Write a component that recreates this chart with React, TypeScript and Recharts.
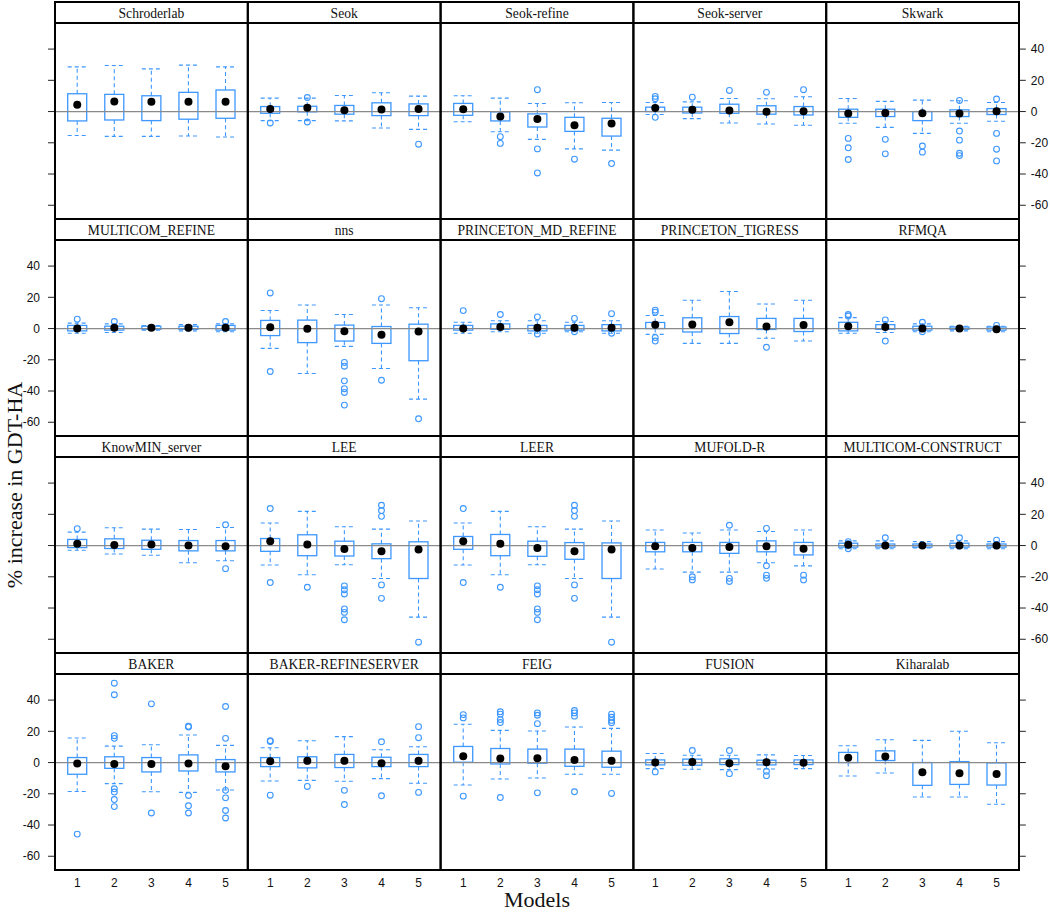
import React from 'react';
import { ComposedChart, Bar, Scatter, XAxis, YAxis, ReferenceLine } from 'recharts';

const panelNames = [
  'Schroderlab', 'Seok', 'Seok-refine', 'Seok-server', 'Skwark',
  'MULTICOM_REFINE', 'nns', 'PRINCETON_MD_REFINE', 'PRINCETON_TIGRESS', 'RFMQA',
  'KnowMIN_server', 'LEE', 'LEER', 'MUFOLD-R', 'MULTICOM-CONSTRUCT',
  'BAKER', 'BAKER-REFINESERVER', 'FEIG', 'FUSION', 'Kiharalab',
];

const models = [1, 2, 3, 4, 5];
const yTicks = [-60, -40, -20, 0, 20, 40];

const medians = [
  [4.3, 6.5, 6.2, 6.2, 6.2],
  [1.7, 2.4, 0.9, 1.3, 1.7],
  [1.5, -3.2, -4.7, -8.8, -7.7],
  [2.2, 1.1, 0.6, -0.2, 0.2],
  [-1.3, -0.9, -1.1, -1.3, 0.2],
  [0, 0.5, 0.5, 0.5, 0.5],
  [0.9, -0.2, -1.7, -3.9, -1.9],
  [0, 1, 0.5, 0.5, 0.5],
  [2.4, 2.6, 4.1, 1.3, 2.2],
  [1.5, 1, 0, 0, -0.5],
  [1.1, 0.4, 0.6, 0, -0.4],
  [2.8, 0.6, -2.2, -3.7, -2.6],
  [2.8, 1.1, -1.5, -3.7, -2.6],
  [-0.5, -1.5, -1, -0.5, -2],
  [0.5, 0, 0, 0, 0],
  [-0.6, -0.9, -0.9, -0.6, -2.4],
  [0.9, 1.1, 1.1, -0.4, 1.1],
  [4.1, 2.6, 2.8, 1.7, 1.1],
  [0, 0.4, -0.4, 0.2, -0.2],
  [3.0, 3.9, -6.2, -6.9, -7.3],
];

const lowerQuartiles = [
  [-6.0, -5.4, -5.8, -4.9, -4.3],
  [-1.1, -0.2, -1.7, -2.6, -2.6],
  [-2.4, -6.0, -9.9, -12.7, -15.7],
  [0, -0.9, -1.1, -1.7, -2.2],
  [-3.7, -3.2, -5.8, -3.2, -1.9],
  [-1.5, -1, -0.5, -0.5, -1],
  [-4.5, -9.0, -8.0, -9.5, -20.6],
  [-1, -0.5, -1.5, -1, -1.5],
  [0, -2.2, -3.2, -0.6, -1.9],
  [-1.5, -0.5, -1, -0.5, -1],
  [-1.3, -1.9, -2.4, -3.4, -3.4],
  [-3.7, -6.5, -6.7, -8.4, -21.1],
  [-2.4, -6.5, -6.9, -8.8, -21.1],
  [-4, -4, -5, -4, -6],
  [-1, -1, -1, -1, -1],
  [-7.5, -3.7, -6.0, -5.4, -6.0],
  [-2.6, -3.4, -3.2, -2.6, -2.6],
  [0.2, -0.9, -0.4, -2.4, -3.0],
  [-1.5, -1.7, -1.3, -1.5, -1.3],
  [0, 1.3, -14.6, -14.0, -14.4],
];

const upperQuartiles = [
  [11.4, 11.0, 10.1, 12.3, 13.8],
  [3.2, 3.4, 3.9, 5.6, 4.9],
  [5.2, -0.2, -1.5, -3.7, -4.3],
  [2.8, 2.8, 4.7, 3.7, 3.2],
  [1.5, 1.5, 0, 1.1, 1.9],
  [2, 1.5, 1.5, 1.5, 2],
  [5.2, 5.4, 2.2, 1.3, 2.8],
  [2, 3, 2, 2, 2.5],
  [3.9, 6.9, 7.7, 6.5, 6.5],
  [4, 2.5, 1.5, 1, 1],
  [3.9, 4.3, 3.4, 3.2, 3.2],
  [4.5, 6.9, 2.8, 1.1, 2.4],
  [5.8, 7.1, 2.8, 1.9, 1.7],
  [2, 2, 2, 3, 2],
  [1.5, 1, 1, 1.5, 1],
  [3.2, 3.7, 3.2, 4.9, 1.9],
  [3.2, 3.7, 5.2, 3.4, 5.2],
  [10.3, 9.0, 8.6, 8.6, 7.3],
  [1.7, 2.2, 2.4, 1.5, 1.7],
  [6.5, 7.5, 0, 0.6, -0.2],
];

const whiskerLow = [
  [-15.3, -15.9, -15.9, -15.7, -16.3],
  [-5.8, -5.8, -6.0, -10.5, -11.4],
  [-6.5, -12.9, -17.8, -23.9, -24.7],
  [-1.9, -4.5, -7.3, -8.0, -8.8],
  [-7.5, -10.1, -14.0, -7.5, -6.2],
  [-3, -2.5, -1, -1.5, -2],
  [-12.7, -28.8, -11.4, -25.6, -45.2],
  [-3, -2, -3, -2, -3],
  [-3.7, -9.5, -9.5, -6.2, -8.0],
  [-3, -2.5, -2, -1.5, -2],
  [-3.0, -5.4, -6.2, -11.0, -9.7],
  [-12.5, -18.7, -12.3, -21.1, -45.8],
  [-12.5, -18.7, -12.3, -21.1, -45.8],
  [-15, -17, -17, -11, -13],
  [-2, -2, -1.5, -2, -2],
  [-18.5, -13.5, -18.7, -19.1, -17.6],
  [-11.8, -11.4, -12.0, -10.3, -13.3],
  [-14.4, -10.5, -9.9, -7.5, -7.5],
  [-3.9, -4.3, -4.5, -4.1, -3.9],
  [-8.6, -6.7, -22.1, -22.1, -26.7],
];

const whiskerHigh = [
  [28.6, 29.5, 27.3, 29.7, 28.6],
  [8.6, 8.6, 10.3, 12.0, 9.9],
  [10.1, 8.6, 5.2, 5.6, 5.8],
  [5.8, 6.2, 8.4, 8.2, 9.5],
  [8.4, 6.5, 7.3, 6.9, 5.8],
  [3.5, 3, 2, 2.5, 3],
  [11.6, 15.1, 9.0, 15.1, 13.3],
  [4, 5, 5, 4, 5],
  [8.4, 18.1, 23.7, 15.7, 18.1],
  [7, 4.5, 3, 1.5, 1.5],
  [8.6, 11.4, 10.5, 10.3, 11.6],
  [14.4, 21.9, 12.0, 10.5, 15.7],
  [14.4, 21.9, 12.0, 10.5, 15.7],
  [10, 8, 10, 9, 10],
  [3, 3, 2.5, 3, 2.5],
  [15.7, 10.5, 11.4, 17.6, 11.0],
  [9.5, 14.0, 16.6, 8.2, 10.1],
  [24.5, 20.6, 20.2, 22.8, 21.9],
  [5.8, 4.7, 4.7, 4.9, 4.5],
  [10.8, 14.6, 14.2, 20.0, 12.7],
];

const outliers = [
  [[], [], [], [], []],
  [[-7.3], [9.0, -6.7], [], [], [-20.9]],
  [[], [-16.1, -20.4], [14.0, -23.9, -39.3], [-30.5], [-33.3]],
  [[9.7, 8.2, -3.7], [9.2], [13.5], [12.3], [14.0]],
  [[-17.2, -23.2, -30.7], [-17.8, -27.1], [-22.1, -26.0], [7.1, -12.5, -18.3, -26.7, -28.2], [8.0, -14.0, -24.1, -31.6]],
  [[6], [4.5], [], [], [4.5]],
  [[22.8, -27.5], [], [-21.7, -24.1, -33.5, -38.5, -40.9, -49.0], [19.1, -33.1], [-57.8]],
  [[11.5], [9], [7.5, -3.5], [6.5, -2], [9.5, -3]],
  [[10.5, 11.8, -5.8, -8.0], [], [], [-12.0], []],
  [[9, 8], [5.5, -8], [4, -2], [], [2]],
  [[10.8], [], [], [], [13.3, -14.8]],
  [[23.7, -23.7], [-26.7], [-25.8, -28.3, -31.0, -40.6, -42.8, -47.5], [25.8, 22.4, 18.7, -25.2, -33.8], [-61.9]],
  [[23.7, -23.7], [-26.7], [-25.8, -28.3, -31.0, -40.6, -42.8, -47.5], [25.8, 22.4, 18.7, -25.2, -33.8], [-61.9]],
  [[], [-20, -22], [13, -21, -23], [11, -13, -19, -21], [-19, -22]],
  [[2.5, -2], [5], [], [5], [3.5]],
  [[-45.8], [50.8, 43.4, 17.2, 15.5, -16.8, -18.9, -23.7, -28.2], [37.6, -32.3], [23.2, 22.8, -21.1, -27.7, -32.3], [35.9, 15.5, -17.8, -22.6, -30.7, -35.5]],
  [[14.0, 13.5, -20.9], [-15.3], [-17.8, -26.9], [13.3, -21.3], [23.0, 15.9, -19.1]],
  [[30.7, 28.6, -21.5], [32.5, 31.0, 27.5, 25.6, -22.4], [31.8, 30.3, 24.9, -19.4], [33.3, 31.8, 29.7, -18.7], [31, 29, 27, 25.5, -19.8]],
  [[-6.0], [7.7], [7.7, -7.1], [-5.6, -8.4], []],
  [[], [], [], [], []],
];

const BLUE = '#3d97ff';
const SANS = '"Liberation Sans", Arial, Helvetica, sans-serif';
const SERIF = '"Liberation Serif", "Times New Roman", Times, serif';

const X0 = 55;
const PW = 192.8;
const ROW_TOP0 = 2;
const ROW_PITCH = 217;
const SH = 21;
const PH = 196;
const Y_MIN = -68.8;
const Y_MAX = 56.7;
const SIDE = 45;
const BOTTOM = 40;

function BoxShape(props: any) {
  const { x, y, width, height, payload } = props;
  if (x == null || y == null || !payload) return <g />;
  const top = Math.min(y, y + height);
  const bot = Math.max(y, y + height);
  const lo = payload.range[0];
  const hi = payload.range[1];
  const span = hi - lo;
  const toPx = (v: number) => (span === 0 ? top : bot - ((v - lo) / span) * (bot - top));
  const yq1 = toPx(payload.q1);
  const yq3 = toPx(payload.q3);
  const cx = x + width / 2;
  const dash = '4 3';
  return (
    <g>
      <line x1={cx} x2={cx} y1={yq3} y2={top} stroke={BLUE} strokeWidth={1.1} strokeDasharray={dash} />
      <line x1={x} x2={x + width} y1={top} y2={top} stroke={BLUE} strokeWidth={1.1} strokeDasharray={dash} />
      <line x1={cx} x2={cx} y1={yq1} y2={bot} stroke={BLUE} strokeWidth={1.1} strokeDasharray={dash} />
      <line x1={x} x2={x + width} y1={bot} y2={bot} stroke={BLUE} strokeWidth={1.1} strokeDasharray={dash} />
      <rect x={x} y={yq3} width={width} height={Math.max(0.5, yq1 - yq3)} fill="none" stroke={BLUE} strokeWidth={1.3} />
    </g>
  );
}

function MedianShape(props: any) {
  const { cx, cy } = props;
  if (cx == null || cy == null) return <g />;
  return <circle cx={cx} cy={cy} r={4} fill="#000" />;
}

function OutlierShape(props: any) {
  const { cx, cy } = props;
  if (cx == null || cy == null) return <g />;
  return <circle cx={cx} cy={cy} r={2.9} fill="none" stroke={BLUE} strokeWidth={1.1} />;
}

function makeYTick(show: boolean, anchor: 'start' | 'end') {
  return (p: any) =>
    show ? (
      <text x={p.x} y={p.y} dy="0.35em" textAnchor={anchor} fontFamily={SANS} fontSize={12} fill="#111">
        {p.payload.value}
      </text>
    ) : (
      <g />
    );
}

function Panel({ idx }: { idx: number }) {
  const row = Math.floor(idx / 5);
  const col = idx % 5;
  const rows = models.map((m, i) => ({
    model: m,
    range: [whiskerLow[idx][i], whiskerHigh[idx][i]],
    q1: lowerQuartiles[idx][i],
    q3: upperQuartiles[idx][i],
  }));
  const medRows = models.map((m, i) => ({ model: m, v: medians[idx][i] }));
  const outRows: { model: number; v: number }[] = [];
  models.forEach((m, i) => outliers[idx][i].forEach((v) => outRows.push({ model: m, v })));
  const isBottom = row === 3;
  const leftAxis = col === 0;
  const rightAxis = col === 4;
  const leftLabels = leftAxis && row % 2 === 1;
  const rightLabels = rightAxis && row % 2 === 0;
  const panelTop = ROW_TOP0 + row * ROW_PITCH + SH;
  return (
    <div style={{ position: 'absolute', left: X0 + col * PW - SIDE, top: panelTop }}>
      <ComposedChart width={PW + 2 * SIDE} height={PH + BOTTOM} data={rows} margin={{ top: 0, right: 0, bottom: 0, left: 0 }}>
        <XAxis
          type="number"
          dataKey="model"
          domain={[0.4, 5.6]}
          allowDataOverflow
          ticks={models}
          interval={0}
          axisLine={false}
          tickLine={false}
          tickSize={0}
          tickMargin={8}
          height={BOTTOM}
          tick={isBottom ? { fill: '#111', fontSize: 12, fontFamily: SANS } : false}
        />
        <YAxis
          yAxisId="l"
          orientation="left"
          type="number"
          domain={[Y_MIN, Y_MAX]}
          allowDataOverflow
          ticks={yTicks}
          interval={0}
          width={SIDE}
          axisLine={false}
          tickLine={leftAxis ? { stroke: '#222', strokeWidth: 1 } : false}
          tickSize={7}
          tickMargin={8}
          tick={leftAxis ? makeYTick(leftLabels, 'end') : false}
        />
        <YAxis
          yAxisId="r"
          orientation="right"
          type="number"
          domain={[Y_MIN, Y_MAX]}
          allowDataOverflow
          ticks={yTicks}
          interval={0}
          width={SIDE}
          axisLine={false}
          tickLine={rightAxis ? { stroke: '#222', strokeWidth: 1 } : false}
          tickSize={7}
          tickMargin={5}
          tick={rightAxis ? makeYTick(rightLabels, 'start') : false}
        />
        <ReferenceLine yAxisId="l" y={0} stroke="#8a8a8a" strokeWidth={1.3} />
        <Bar yAxisId="l" dataKey="range" barSize={19} shape={BoxShape} isAnimationActive={false} />
        <Scatter yAxisId="l" data={outRows} dataKey="v" shape={OutlierShape} isAnimationActive={false} />
        <Scatter yAxisId="r" data={medRows} dataKey="v" shape={MedianShape} isAnimationActive={false} />
      </ComposedChart>
    </div>
  );
}

export default function App() {
  const frames: React.ReactNode[] = [];
  panelNames.forEach((name, idx) => {
    const row = Math.floor(idx / 5);
    const col = idx % 5;
    const x = X0 + col * PW;
    const y = ROW_TOP0 + row * ROW_PITCH;
    frames.push(
      <g key={name}>
        <rect x={x} y={y} width={PW} height={SH} fill="none" stroke="#000" strokeWidth={2} />
        <rect x={x} y={y + SH} width={PW} height={PH} fill="none" stroke="#000" strokeWidth={2} />
        <text x={x + PW / 2} y={y + SH / 2 + 1} dy="0.35em" textAnchor="middle" fontFamily={SERIF} fontSize={13.6} fill="#111">
          {name}
        </text>
      </g>
    );
  });
  return (
    <div style={{ position: 'absolute', left: 0, top: 0, width: 1050, height: 912, background: '#fff', overflow: 'hidden' }}>
      {panelNames.map((n, idx) => (
        <Panel key={n} idx={idx} />
      ))}
      <svg width={1050} height={912} style={{ position: 'absolute', left: 0, top: 0, pointerEvents: 'none' }}>
        {frames}
        <text x={14} y={485} transform="rotate(-90 14 485)" dy="0.35em" textAnchor="middle" fontFamily={SERIF} fontSize={22} fill="#111">
          % increase in GDT-HA
        </text>
        <text x={537} y={899} dy="0.35em" textAnchor="middle" fontFamily={SERIF} fontSize={22} fill="#111">
          Models
        </text>
      </svg>
    </div>
  );
}
